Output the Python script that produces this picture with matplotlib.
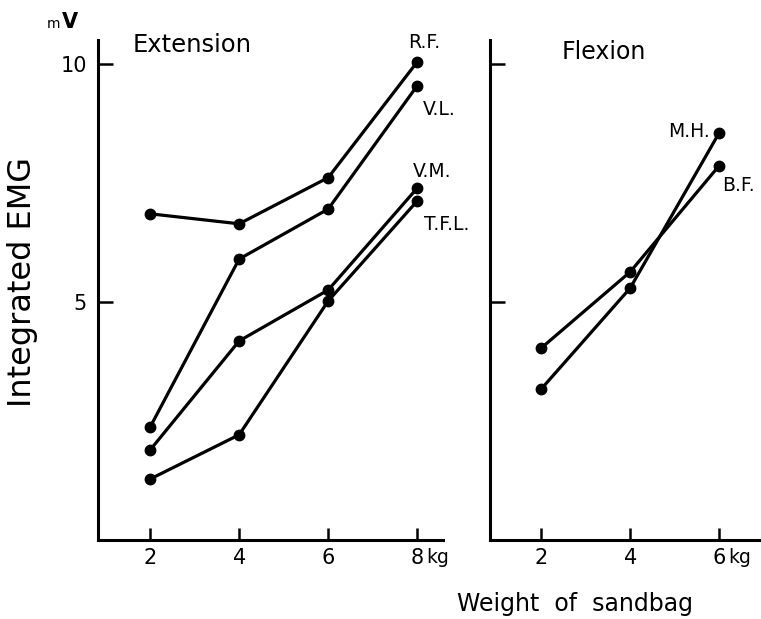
import matplotlib
matplotlib.use("Agg")
import matplotlib.pyplot as plt

# Integrated EMG (mV) vs weight of sandbag (kg)
ext_weights = [2, 4, 6, 8]
rf = [6.85, 6.64, 7.61, 10.04]
vl = [2.37, 5.90, 6.95, 9.54]
vm = [1.89, 4.18, 5.25, 7.39]
tfl = [1.28, 2.21, 5.02, 7.12]

flex_weights = [2, 4, 6]
mh = [3.17, 5.29, 8.55]
bf = [4.03, 5.63, 7.86]

ext_ticks = ["2", "4", "6", "8"]
flex_ticks = ["2", "4", "6"]

LW = 2.3
MS = 7.5
plt.rcParams["font.family"] = "DejaVu Sans"

fig = plt.figure(figsize=(7.61, 6.19), dpi=100)
ax1 = fig.add_axes([0.1288, 0.1276, 0.4534, 0.8078])
ax2 = fig.add_axes([0.6439, 0.1276, 0.3561, 0.8078])


def style(ax, xlim, ticks, labels, show_y):
    ax.set_xlim(*xlim)
    ax.set_ylim(0, 10.5)
    for s in ["top", "right"]:
        ax.spines[s].set_visible(False)
    for s in ["left", "bottom"]:
        ax.spines[s].set_linewidth(2.2)
    ax.set_xticks(ticks)
    ax.set_xticklabels(labels)
    ax.set_yticks([5, 10])
    ax.tick_params(axis="x", direction="in", length=9, width=1.8, pad=6, labelsize=15)
    ax.tick_params(axis="y", direction="in", length=11, width=1.8, pad=8, labelsize=15,
                   labelleft=show_y)


style(ax1, (0.83, 8.58), ext_weights, ext_ticks, True)
style(ax2, (0.85, 6.94), flex_weights, flex_ticks, False)

for ys in [rf, vl, vm, tfl]:
    ax1.plot(ext_weights, ys, color="black", lw=LW, marker="o", ms=MS)
for ys in [mh, bf]:
    ax2.plot(flex_weights, ys, color="black", lw=LW, marker="o", ms=MS)

# series labels near the last points
lab = dict(fontsize=13.5, textcoords="offset points")
ax1.annotate("R.F.", (8, rf[-1]), xytext=(5, 14), ha="center", va="center", **lab)
ax1.annotate("V.L.", (8, vl[-1]), xytext=(16, -17), ha="center", va="center", **lab)
ax1.annotate("V.M.", (8, vm[-1]), xytext=(11, 12), ha="center", va="center", **lab)
ax1.annotate("T.F.L.", (8, tfl[-1]), xytext=(21, -17), ha="center", va="center", **lab)
ax2.annotate("M.H.", (6, mh[-1]), xytext=(-7, 1), ha="right", va="center", **lab)
ax2.annotate("B.F.", (6, bf[-1]), xytext=(14, -14), ha="center", va="center", **lab)

ax1.text(0.1, 0.99, "Extension", transform=ax1.transAxes, fontsize=17.5, va="center")
ax2.text(0.265, 0.975, "Flexion", transform=ax2.transAxes, fontsize=17, va="center")

# unit labels
for ax, x in [(ax1, 8), (ax2, 6)]:
    ax.annotate("kg", (x, 0), xycoords=("data", "axes fraction"), xytext=(6.5, -6),
                textcoords="offset points", ha="left", va="top", fontsize=13.5)
fig.text(0.062, 0.955, "m", fontsize=10, ha="left", va="baseline")
fig.text(0.081, 0.955, "V", fontsize=15, fontweight="bold", ha="left", va="baseline")

fig.text(0.029, 0.545, "Integrated EMG", rotation=90, fontsize=23, ha="center", va="center")
fig.text(0.755, 0.025, "Weight  of  sandbag", fontsize=17, ha="center", va="center")

fig.savefig("out.png", dpi=100)
